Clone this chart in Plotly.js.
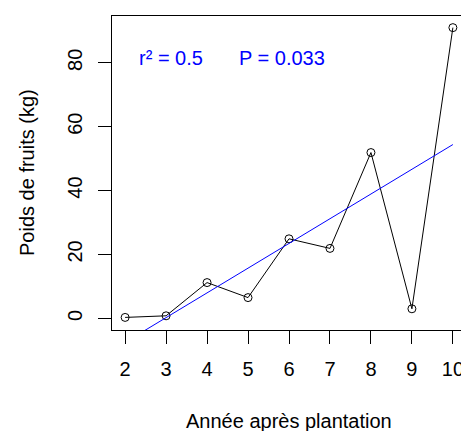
<!DOCTYPE html>
<html>
<head>
<meta charset="utf-8">
<script src="https://cdn.plot.ly/plotly-3.0.1.min.js"></script>
<style>
html, body { margin: 0; padding: 0; overflow: hidden; background: #fff; }
#chart { width: 480px; height: 431px; }
</style>
</head>
<body>
<div id="chart"></div>
<script>
// Data
const years = [2, 3, 4, 5, 6, 7, 8, 9, 10];
const fruitWeight = [0.3, 0.8, 11.2, 6.5, 24.9, 21.9, 51.9, 3.0, 91.0];
const fitYears = [2, 10];
const fitWeight = [-7.5, 54.4];
const xTicks = [2, 3, 4, 5, 6, 7, 8, 9, 10];
const yTicks = [0, 20, 40, 60, 80];
const statLabels = ["r\u00B2 = 0.5", "P = 0.033"];
const xTitle = "Année après plantation";
const yTitle = "Poids de fruits (kg)";

const FONT = "Liberation Sans, Arial, sans-serif";

const traces = [
  {
    x: years, y: fruitWeight, type: "scatter", mode: "lines+markers",
    line: { color: "black", width: 1 },
    marker: { symbol: "circle-open", size: 8, color: "black", line: { width: 1, color: "black" } },
    hoverinfo: "x+y", showlegend: false
  },
  {
    x: fitYears, y: fitWeight, type: "scatter", mode: "lines",
    line: { color: "#0000ff", width: 1 },
    showlegend: false
  }
];

const axisCommon = {
  showline: true, mirror: true, linecolor: "black", linewidth: 1,
  ticks: "outside", ticklen: 13, tickwidth: 1, tickcolor: "black",
  showgrid: false, zeroline: false,
  tickfont: { family: FONT, size: 20, color: "black" },
  automargin: false
};

const layout = {
  width: 480, height: 431,
  margin: { l: 112, r: 14, t: 16, b: 101 },
  paper_bgcolor: "white", plot_bgcolor: "white",
  font: { family: FONT, size: 20, color: "black" },
  xaxis: Object.assign({}, axisCommon, {
    range: [1.68, 10.32], tickmode: "array", tickvals: xTicks,
    ticktext: xTicks.map(String), ticklabelstandoff: 8
  }),
  yaxis: Object.assign({}, axisCommon, {
    range: [-3.64, 94.64], tickmode: "array", tickvals: yTicks,
    ticktext: yTicks.map(String), tickangle: -90, ticklabelstandoff: 8
  }),
  annotations: [
    { xref: "x", yref: "y", x: 3.11, y: 81.6, text: statLabels[0], showarrow: false,
      xanchor: "center", yanchor: "middle", font: { family: FONT, size: 20, color: "#0000ff" } },
    { xref: "x", yref: "y", x: 5.82, y: 81.6, text: statLabels[1], showarrow: false,
      xanchor: "center", yanchor: "middle", font: { family: FONT, size: 20, color: "#0000ff" } },
    { xref: "paper", yref: "paper", x: 0.5, y: -(421 - 330) / 314, text: xTitle, showarrow: false,
      xanchor: "center", yanchor: "middle", font: { family: FONT, size: 20, color: "black" } },
    { xref: "paper", yref: "paper", x: -(112 - 27) / 354, y: 0.5, text: yTitle, showarrow: false,
      textangle: -90, xanchor: "center", yanchor: "middle", font: { family: FONT, size: 20, color: "black" } }
  ]
};

Plotly.newPlot("chart", traces, layout, { displayModeBar: false, staticPlot: true });
</script>
</body>
</html>
